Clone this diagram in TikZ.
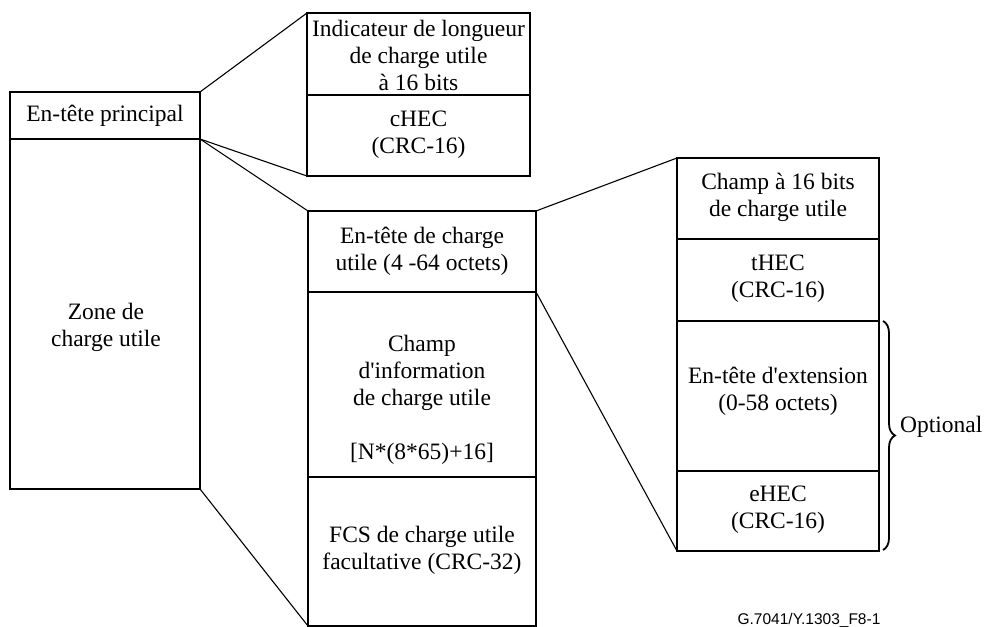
\documentclass[tikz,border=0pt]{standalone}
\usepackage{fontspec}
\setmainfont{Liberation Serif}
\newfontfamily\footfont{Liberation Sans}
\usetikzlibrary{decorations.pathreplacing}
\tikzset{
  cell/.style={draw, line width=1.8bp, inner sep=0pt, outer sep=0pt, rectangle},
  txt/.style={align=center, inner sep=0pt, font=\fontsize{23.5bp}{27bp}\selectfont},
  conn/.style={line width=1.1bp},
}
\begin{document}
\begin{tikzpicture}[x=1bp,y=-1bp]
\useasboundingbox (0,0) rectangle (994,627);
% left column
\node[cell, minimum width=190bp, minimum height=47bp] (hp) at (105,115.5) {};
\node[cell, minimum width=190bp, minimum height=350bp] (zone) at (105,314) {};
\node[txt] (hpt) at (105,115.5) {En-tête principal};
\node[txt] (zonet) at (106,327) {Zone de\\charge utile};
% top column
\node[cell, minimum width=223bp, minimum height=82bp] (top1) at (418.5,54) {};
\node[cell, minimum width=223bp, minimum height=81bp] (top2) at (418.5,135.5) {};
\node[txt] (top1t) at (418.5,55) {Indicateur de longueur\\de charge utile\\à 16 bits};
\node[txt] (top2t) at (418.5,135) {cHEC\\(CRC-16)};
% middle column
\node[cell, minimum width=228bp, minimum height=81bp] (mid1) at (422,251.5) {};
\node[cell, minimum width=228bp, minimum height=185bp] (mid2) at (422,384.5) {};
\node[cell, minimum width=228bp, minimum height=149bp] (mid3) at (422,551.5) {};
\node[txt] (mid1t) at (422,251) {En-tête de charge\\utile (4 -64 octets)};
\node[txt] (mid2t) at (422,373) {Champ\\d\textquotesingle information\\de charge utile};
\node[txt] (mid2b) at (422,454) {[N*(8*65)+16]};
\node[txt] (mid3t) at (422,550) {FCS de charge utile\\facultative (CRC-32)};
% right column
\node[cell, minimum width=202bp, minimum height=81bp] (r1) at (778,198.5) {};
\node[cell, minimum width=202bp, minimum height=82bp] (r2) at (778,280) {};
\node[cell, minimum width=202bp, minimum height=150bp] (r3) at (778,396) {};
\node[cell, minimum width=202bp, minimum height=80bp] (r4) at (778,511) {};
\node[txt] (r1t) at (778,197) {Champ à 16 bits\\de charge utile};
\node[txt] (r2t) at (778,279) {tHEC\\(CRC-16)};
\node[txt] (r3t) at (778,391) {En-tête d\textquotesingle extension\\(0-58 octets)};
\node[txt] (r4t) at (778,510) {eHEC\\(CRC-16)};
% connectors
\draw[conn] (hp.north east) -- (top1.north west);
\draw[conn] (hp.south east) -- (top2.south west);
\draw[conn] (hp.south east) -- (mid1.north west);
\draw[conn] (zone.south east) -- (mid3.south west);
\draw[conn] (mid1.north east) -- (r1.north west);
\draw[conn] (mid1.south east) -- (r4.south west);
% brace
\coordinate (bt) at (883,321);
\coordinate (bb) at (883,550);
\draw[line width=1.8bp, decorate, decoration={brace, amplitude=12bp}] (bt) -- (bb);
\node[txt, anchor=base west] (opt) at (900,432) {Optional};
% footer
\node[inner sep=0pt, anchor=base, font=\footfont\fontsize{15.5bp}{18bp}\selectfont] (foot) at (809,624) {G.7041/Y.1303\_F8-1};
\end{tikzpicture}
\end{document}
